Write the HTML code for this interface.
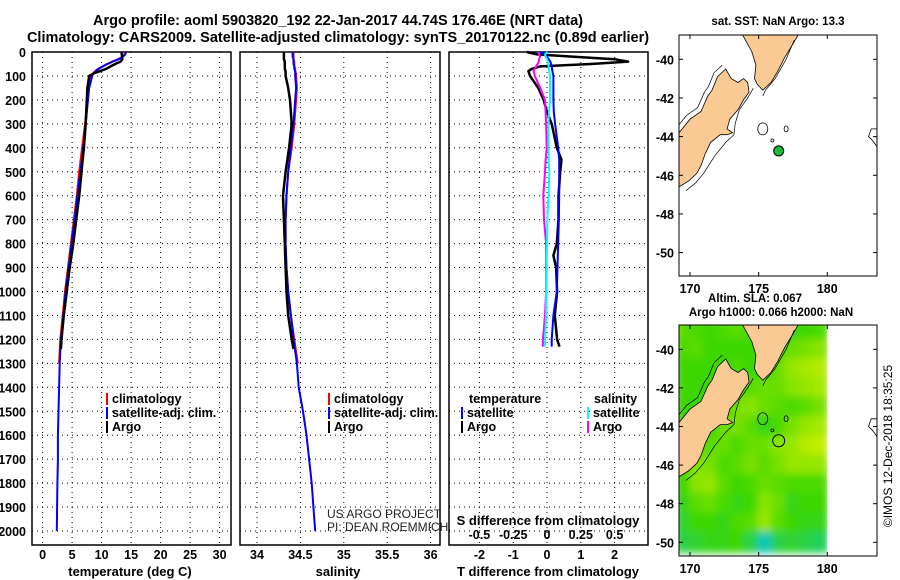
<!DOCTYPE html>
<html><head><meta charset="utf-8"><style>
body{margin:0;background:#fff;}
svg{display:block;font-family:"Liberation Sans",sans-serif;}
.b{font-weight:bold;font-size:12.5px;}
.ax{font-weight:bold;font-size:13px;}
.m{font-weight:bold;font-size:11.5px;}
.t{font-weight:bold;font-size:14.5px;}
</style></head><body>
<svg id="fig" width="900" height="580" viewBox="0 0 900 580">
<defs>
<clipPath id="c1"><rect x="679" y="35" width="198" height="241"/></clipPath>
<clipPath id="c2"><rect x="679" y="325" width="198" height="231"/></clipPath>
<filter id="bl"><feGaussianBlur stdDeviation="4"/></filter>
</defs>
<text class="t" x="338" y="25" text-anchor="middle">Argo profile: aoml 5903820_192 22-Jan-2017 44.74S 176.46E (NRT data)</text>
<text class="t" x="338" y="42" text-anchor="middle">Climatology: CARS2009. Satellite-adjusted climatology: synTS_20170122.nc (0.89d earlier)</text>
<g id="g"></g>
</svg>
<script>
// ---- profile data ----
const pA=[0,10,20,30,40,50,60,70,80,90,100,150,200,300,400,500,600,700,800,900,1000,1100,1200,1240];
const tA=[13.4,13.4,13.5,13.5,13.2,12.3,11.5,10.8,9.7,8.6,7.9,7.6,7.5,7.3,7.0,6.6,6.2,5.7,5.2,4.6,4.1,3.6,3.2,3.1];
const sA=[34.31,34.31,34.31,34.31,34.32,34.32,34.32,34.32,34.33,34.33,34.33,34.36,34.38,34.40,34.37,34.33,34.30,34.31,34.32,34.33,34.34,34.36,34.40,34.42];
const pC=[0,10,20,30,40,50,60,70,80,90,100,150,200,300,400,500,600,700,800,900,1000,1100,1200,1300];
const tC=[14.0,13.9,13.5,12.8,11.8,10.9,10.2,9.4,8.9,8.5,8.3,7.8,7.6,7.2,6.7,6.2,5.8,5.3,4.8,4.3,3.8,3.4,3.0,2.8];
const sC=[34.42,34.42,34.42,34.42,34.43,34.43,34.43,34.44,34.44,34.45,34.45,34.46,34.45,34.43,34.40,34.36,34.34,34.33,34.33,34.34,34.36,34.39,34.43,34.47];
const pS=[0,10,20,30,40,50,60,70,80,90,100,150,200,300,400,500,600,700,800,900,1000,1100,1200,1300,1400,1500,1600,1700,1800,1900,2000];
const tS=[14.1,14.0,13.6,12.9,11.9,11.0,10.2,9.5,9.0,8.6,8.4,7.9,7.7,7.3,6.9,6.4,5.9,5.4,4.9,4.4,3.9,3.5,3.1,2.9,2.8,2.7,2.6,2.6,2.5,2.45,2.4];
const sS=[34.41,34.41,34.41,34.42,34.42,34.42,34.43,34.43,34.44,34.44,34.44,34.45,34.44,34.42,34.39,34.36,34.34,34.33,34.33,34.34,34.36,34.39,34.42,34.46,34.48,34.53,34.57,34.60,34.63,34.65,34.67];
const pD=[0,10,20,30,40,50,60,70,80,100,150,200,250,300,400,450,500,600,700,800,850,900,1000,1100,1200,1230];
const dTA=[-0.6,-0.3,0.8,2.0,2.4,1.3,-0.2,-0.45,-0.55,-0.5,-0.26,-0.1,0,0.14,0.29,0.43,0.39,0.34,0.34,0.29,0.19,0.27,0.3,0.23,0.3,0.37];
const dTS=[-0.2,-0.05,0.0,0.05,0.1,0.12,0.14,0.15,0.16,0.19,0.19,0.19,0.2,0.24,0.33,0.36,0.36,0.36,0.35,0.33,0.32,0.31,0.29,0.19,0.14,0.14];
const dSA=[-0.06,-0.06,-0.05,-0.06,-0.06,-0.07,-0.08,-0.09,-0.1,-0.09,-0.05,-0.015,-0.01,-0.007,-0.002,-0.01,-0.015,-0.027,-0.022,-0.007,-0.007,-0.007,-0.007,-0.015,-0.03,-0.03];
const dSS=[0.002,-0.015,-0.01,0.0,0.008,0.01,0.012,0.015,0.018,0.022,0.022,0.022,0.015,0.01,0.01,0.012,0.017,0.012,0.002,0.0,-0.002,-0.002,-0.005,-0.007,-0.015,-0.015];
const pTicks=[0,100,200,300,400,500,600,700,800,900,1000,1100,1200,1300,1400,1500,1600,1700,1800,1900,2000];
const tTicks=[0,5,10,15,20,25,30];
const sTicks=[34,34.5,35,35.5,36];
const sTickLbl=['34','34.5','35','35.5','36'];
const dTicks=[-2,-1,0,1,2];
const dsTicks=[-0.5,-0.25,0,0.25,0.5];
const dsLbl=['-0.5','-0.25','0','0.25','0.5'];
// ---- map data ----
const argoLon=176.46, argoLat=-44.74;
const lonTicks=[170,175,180];
const latTicks=[-40,-42,-44,-46,-48,-50];
const siLon=[169.2,170.0,170.8,171.3,171.6,172.0,172.6,173.0,173.5,173.9,174.2,174.3,173.9,173.5,172.9,172.7,173.1,172.7,172.2,171.5,171.1,170.8,170.5,169.9,169.2];
const siLat=[-43.8,-43.1,-42.7,-41.9,-41.6,-40.9,-40.5,-41.0,-41.2,-41.0,-41.2,-41.7,-42.1,-42.6,-43.1,-43.6,-43.8,-43.9,-43.9,-44.3,-44.9,-45.5,-45.9,-46.3,-46.6];
const niLon=[173.8,174.5,174.8,174.7,174.9,175.3,175.9,176.4,176.9,177.5,177.9];
const niLat=[-38.7,-39.6,-40.3,-41.0,-41.3,-41.6,-41.2,-40.6,-39.9,-39.2,-38.7];
const slaLatRows=[-39,-40,-41,-42,-43,-44,-45,-46,-47,-48,-49,-50];
const slaLonCols=[169.5,170.5,171.5,172.5,173.5,174.5,175.5,176.5,177.5,178.5,179.5];
const sla=[
[0.2,0.1,0,0.1,0.2,0.1,0,0,-0.1,0,0.1],
[0.1,0.2,0,0,0,0,0,0.2,0.3,0.4,0.5],
[0,0,0,0,0.1,0,0,0.3,0.6,0.7,0.8],
[0,0,0,0,0,0.2,0.3,0.3,0.5,0.6,0.7],
[0,0,0,0,0.4,0.5,0.3,0.2,0.1,0.2,0.4],
[0,0,0,0.3,0.4,0.2,-0.1,0.1,0.4,0.6,0.7],
[0,0,0.2,0.3,0.1,0.3,0.3,0.5,0.6,0.8,0.9],
[0.1,0.5,0.4,0.1,0.2,0.4,0.2,0.4,0.6,0.6,0.6],
[0,0.5,0.6,0.2,0,0.1,0.3,0.2,0.1,0.1,0.1],
[-0.1,0.2,0.3,0.1,-0.1,0,0.5,0.3,-0.1,0,0],
[-0.2,0,0,-0.1,0.1,0.2,0.6,0.2,0,-0.1,-0.1],
[-0.3,-0.2,-0.1,-0.1,0,-0.3,-0.8,-0.3,-0.2,-0.3,-0.4]];

const NS='http://www.w3.org/2000/svg';
const G=document.getElementById('g');
function el(tag,at,parent){const e=document.createElementNS(NS,tag);for(const k in at)e.setAttribute(k,at[k]);(parent||G).appendChild(e);return e;}
function txt(s,x,y,cls,anchor,name){const e=el('text',{x:x,y:y,class:cls||'b','text-anchor':anchor||'start'});e.textContent=s;


return e;}
const Y=p=>52+p*0.2395;
const X1=t=>42.6+t*5.9, X2=s=>257+(s-34)*86.8, X3=d=>547+d*33.8, X3s=d=>547+d*135.2;
const BOT=545, TOP=52;
function panel(x0,x1,xt,xs,lbls,name){
  pTicks.forEach(p=>{const l=el('line',{x1:x0,x2:x1,y1:Y(p),y2:Y(p),stroke:'#000','stroke-width':1,'stroke-dasharray':'1,4'});
  
  });
  xt.forEach((v,i)=>{const x=xs(v);const l=el('line',{x1:x,x2:x,y1:TOP,y2:BOT,stroke:'#000','stroke-width':1,'stroke-dasharray':'1,4'});
  
  
  if(lbls)txt(lbls[i],x,559,'b','middle',name+'-x-tick-label');});
  const r=el('rect',{x:x0,y:TOP,width:x1-x0,height:BOT-TOP,fill:'none',stroke:'#000','stroke-width':1.5});
  
  
}
function line(ps,vs,xs,col,w,name){const pts=ps.map((p,i)=>xs(vs[i]).toFixed(1)+','+Y(p).toFixed(1)).join(' ');
  const l=el('polyline',{points:pts,fill:'none',stroke:col,'stroke-width':w,'stroke-linejoin':'round'});
  
  }
panel(32,231,tTicks,X1,tTicks.map(String),'temperature-panel');
panel(240,440,sTicks,X2,sTickLbl,'salinity-panel');
panel(449,648,dTicks,X3,dTicks.map(String),'difference-panel');
pTicks.forEach(p=>txt(String(p),26,Y(p)+5,'b','end','y-tick-label'));
txt('temperature (deg C)',130,576,'ax','middle','temperature-axis-title');
txt('salinity',338,576,'ax','middle','salinity-axis-title');
txt('T difference from climatology',548,576,'ax','middle','t-difference-axis-title');
txt('S difference from climatology',548,525,'ax','middle','s-difference-axis-title');
dsTicks.forEach((v,i)=>txt(dsLbl[i],X3s(v),539,'b','middle','s-difference-tick-label'));
line(pC,tC,X1,'#f00',2,'temp-climatology-line');
line(pS,tS,X1,'#00f',2,'temp-satellite-line');
line(pA,tA,X1,'#000',2.5,'temp-argo-line');
line(pC,sC,X2,'#f00',2,'sal-climatology-line');
line(pS,sS,X2,'#00f',2,'sal-satellite-line');
line(pA,sA,X2,'#000',2.5,'sal-argo-line');
line(pD,dTA,X3,'#000',2.5,'tdiff-argo-line');
line(pD,dTS,X3,'#00f',2,'tdiff-satellite-line');
line(pD,dSA,X3s,'#f0f',2,'sdiff-argo-line');
line(pD,dSS,X3s,'#0ff',2,'sdiff-satellite-line');
function leg(x,y,col,label,name){const r=el('rect',{x:x,y:y-10,width:2,height:12,fill:col});
  
  
  txt(label,x+6,y,'b','start',name);}
leg(106,403,'#f00','climatology','legend-temp-climatology');
leg(106,417,'#00f','satellite-adj. clim.','legend-temp-satellite');
leg(106,431,'#000','Argo','legend-temp-argo');
leg(328,403,'#f00','climatology','legend-sal-climatology');
leg(328,417,'#00f','satellite-adj. clim.','legend-sal-satellite');
leg(328,431,'#000','Argo','legend-sal-argo');
txt('temperature',469,403,'b','start','legend-temperature-heading');
txt('salinity',594,403,'b','start','legend-salinity-heading');
leg(461,417,'#00f','satellite','legend-tdiff-satellite');
leg(461,431,'#000','Argo','legend-tdiff-argo');
leg(587,417,'#0ff','satellite','legend-sdiff-satellite');
leg(587,431,'#f0f','Argo','legend-sdiff-argo');
const c1=txt('US ARGO PROJECT',327,518,'n','start','credit-project');c1.setAttribute('style','font-size:12px;fill:#222');
const c2=txt('PI: DEAN ROEMMICH',327,531,'n','start','credit-pi');c2.setAttribute('style','font-size:12px;fill:#222');

// ---- maps ----
const MX=lon=>690+(lon-170)*13.73;
function map(top,my,clip,name,isSla){
  const g=el('g',{'clip-path':'url(#'+clip+')'});
  
  
  if(isSla){
    const hg=el('g',{filter:'url(#bl)'},g);
    sla.forEach((row,ri)=>row.forEach((v,ci)=>{
      let c;
      if(v>=0){const r=Math.round(60+v*150),gg=Math.round(215+v*25);c=`rgb(${r},${gg},0)`;}
      else{const r=Math.round(60+v*60),gg=Math.round(215+v*20),b=Math.round(-v*230);c=`rgb(${Math.max(0,r)},${gg},${b})`;}
      const x=MX(slaLonCols[ci]-0.5),y=my(slaLatRows[ri]+0.5);
      const r=el('rect',{x:x-1,y:y-1,width:13.73+2,height:19.3+2,fill:c},hg);
      
      
    }));
    el('rect',{x:MX(180),y:top,width:60,height:260,fill:'#fff'},g);
  }
  const poly=(lons,lats,extra)=>lons.map((l,i)=>MX(l).toFixed(1)+','+my(lats[i]).toFixed(1)).join(' ')+(extra||'');
  const si=el('polygon',{points:poly(siLon,siLat,' 660,'+my(-46.6)+' 660,'+my(-43.8)),fill:'#fbca94',stroke:'#000','stroke-width':0.8},g);
  
  
  const ni=el('polygon',{points:poly(niLon,niLat),fill:'#fbca94',stroke:'#000','stroke-width':0.8},g);
  
  
  const off=siLon.map((l,i)=>(l-0.25).toFixed(2)*1);
  el('polyline',{points:poly(off.slice(0,7),siLat.slice(0,7).map(v=>v+0.2)),fill:'none',stroke:'#000','stroke-width':0.7},g);
  el('polyline',{points:poly([174.6,174.2,173.6,173.3,173.2,172.6,171.8,171.0,170.4,169.7],[-41.5,-42.0,-42.6,-43.3,-43.9,-44.3,-45.0,-45.9,-46.4,-46.8]),fill:'none',stroke:'#000','stroke-width':0.7},g);
  el('polyline',{points:poly([175.3,175.5,176.2,177.0,177.6],[-41.9,-41.6,-41.0,-40.0,-39.0]),fill:'none',stroke:'#000','stroke-width':0.7},g);
  el('ellipse',{cx:MX(175.3),cy:my(-43.6),rx:5,ry:6,fill:'none',stroke:'#000','stroke-width':0.8},g);
  el('ellipse',{cx:MX(177.0),cy:my(-43.6),rx:2,ry:3,fill:'none',stroke:'#000','stroke-width':0.8},g);
  el('circle',{cx:MX(176.0),cy:my(-44.2),r:1.5,fill:'none',stroke:'#000','stroke-width':0.8},g);
  el('polyline',{points:poly([183.7,183.2,183.0,183.3,183.7],[-43.6,-43.6,-44.0,-44.2,-44.6]),fill:'none',stroke:'#000','stroke-width':0.8},g);
  const dot=el('circle',{cx:MX(argoLon),cy:my(argoLat),r:isSla?6:5,fill:isSla?'none':'#1db93a',stroke:'#000','stroke-width':1});
  
  
  const bottom=top+(isSla?231:241);
  const fr=el('rect',{x:679,y:top,width:198,height:bottom-top,fill:'none',stroke:'#000','stroke-width':1});
  
  
  lonTicks.forEach(l=>{el('line',{x1:MX(l),x2:MX(l),y1:top,y2:top+4,stroke:'#000'});el('line',{x1:MX(l),x2:MX(l),y1:bottom,y2:bottom-4,stroke:'#000'});
    txt(String(l),MX(l),bottom+17,'b','middle',name+'-lon-label');});
  latTicks.forEach(l=>{el('line',{x1:679,x2:683,y1:my(l),y2:my(l),stroke:'#000'});el('line',{x1:877,x2:873,y1:my(l),y2:my(l),stroke:'#000'});
    txt(String(l),674,my(l)+5,'b','end',name+'-lat-label');});
}
map(35,lat=>59.3+(-40-lat)*19.33,'c1','sst-map',false);
map(325,lat=>349.3+(-40-lat)*19.3,'c2','sla-map',true);
txt('sat. SST: NaN Argo: 13.3',778,25,'m','middle','sst-map-title');
txt('Altim. SLA: 0.067',755,302,'m','middle','sla-map-title');
txt('Argo h1000: 0.066 h2000: NaN',771,316,'m','middle','sla-map-subtitle');
const ts=txt('©IMOS 12-Dec-2018 18:35:25',0,0,'n','middle','timestamp');
ts.setAttribute('transform','translate(892,446) rotate(-90)');
ts.setAttribute('style','font-size:12px');
</script>
</body></html>
